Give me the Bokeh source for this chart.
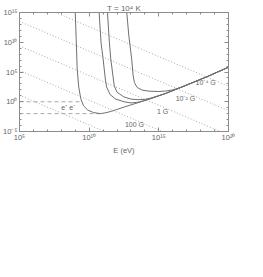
import numpy as np
from bokeh.plotting import figure
from bokeh.models import LogAxis, FixedTicker, Range1d, ColumnDataSource, LogScale
from bokeh.core.properties import value
from bokeh.embed import file_html
from bokeh.resources import INLINE

# ---- data (log10 values) ----
x_ticks = [1e5, 1e10, 1e15, 1e20]
x_tick_labels = ["10⁵", "10¹⁰", "10¹⁵", "10²⁰"]
y_ticks = [1e-5, 1e0, 1e5, 1e10, 1e15]
y_tick_labels = ["10⁻⁵", "10⁰", "10⁵", "10¹⁰", "10¹⁵"]

# dotted lines: log10 L at E = 1e5 eV and at E = 1e20 eV
sync_labels = ["10⁻⁴ G", "10⁻² G", "1 G", "100 G", ""]
sync_logL_at_E5 = [17.6, 13.5, 9.4, 5.25, 1.1]
sync_logL_at_E20 = [2.6, -1.5, -5.6, -9.75, -13.9]

# solid curves (log10 E, log10 L)
c1_logE = [9.0, 9.07, 9.14, 9.25, 9.4, 9.6, 9.9, 10.3, 10.8, 11.2, 11.6, 12.5, 14.0, 15.5, 17.0, 18.5, 20.0]
c1_logL = [15.2, 10.5, 5.5, 2.5, 0.5, -0.7, -1.4, -1.8, -2.0, -1.85, -1.6, -0.9, 0.2, 1.4, 2.8, 4.25, 5.8]
c2_logE = [10.71, 10.85, 11.0, 11.15, 11.25, 11.5, 11.9, 12.5, 13.0, 13.5, 14.0, 15.5, 17.0, 18.5, 20.0]
c2_logL = [15.2, 10.0, 7.2, 4.0, 2.5, 1.2, 0.45, 0.0, -0.2, -0.08, 0.22, 1.4, 2.8, 4.25, 5.8]
c3_logE = [11.31, 11.45, 11.55, 11.7, 11.8, 12.0, 12.5, 13.0, 13.5, 14.0, 14.5, 15.5, 17.0, 18.5, 20.0]
c3_logL = [15.2, 10.0, 7.2, 4.5, 2.7, 1.6, 0.8, 0.45, 0.35, 0.4, 0.65, 1.42, 2.8, 4.25, 5.8]
c4_logE = [12.69, 12.85, 13.05, 13.15, 13.25, 13.45, 13.8, 14.3, 15.0, 15.5, 16.0, 16.5, 17.0, 17.5, 18.5, 20.0]
c4_logL = [15.2, 11.0, 7.2, 4.5, 3.2, 2.4, 1.95, 1.78, 1.72, 1.8, 2.0, 2.35, 2.85, 3.3, 4.27, 5.82]

# dashed reference levels
dash_logL = [0.0, -2.0]
dash_logE_end = [9.42, 10.8]

# text labels
label_texts = sync_labels[:4] + ["e⁺ e⁻"]
label_logE = [17.64, 16.21, 14.86, 12.57, 8.0]
label_logL = [3.28, 0.5, -1.62, -3.78, -1.0]

# ---- figure ----
grey = "#8c8c8c"
txt = "#666666"
font = "Liberation Sans"

p = figure(width=248, height=157, x_axis_type=None, y_axis_type=None,
           x_range=Range1d(1e5, 1e20), y_range=Range1d(1e-5, 1e15),
           output_backend="svg", toolbar_location=None,
           min_border_left=18, min_border_right=20, min_border_top=12, min_border_bottom=24)
p.x_scale = LogScale()
p.y_scale = LogScale()
p.grid.visible = False
p.outline_line_color = grey
p.background_fill_color = "white"
p.border_fill_color = "white"

p.title.text = "T = 10⁴ K"
p.title.align = "center"
p.title.text_font = font
p.title.text_font_size = "8px"
p.title.text_font_style = "normal"
p.title.text_color = txt
p.title.standoff = 0

xminor = [10.0 ** k for k in range(5, 21) if k % 5]
yminor = [10.0 ** k for k in range(-5, 16) if k % 5]

def make_axis(ticks, minor, labels, show):
    ax = LogAxis(ticker=FixedTicker(ticks=ticks, minor_ticks=minor))
    ax.axis_line_color = grey
    ax.major_tick_line_color = grey
    ax.minor_tick_line_color = grey
    ax.major_tick_in = 4
    ax.major_tick_out = 0
    ax.minor_tick_in = 2
    ax.minor_tick_out = 0
    ax.major_label_text_font = font
    ax.major_label_text_color = txt
    if show:
        ax.major_label_overrides = {t: l for t, l in zip(ticks, labels)}
        ax.major_label_text_font_size = "7.5px"
        ax.major_label_standoff = 2
    else:
        ax.major_label_overrides = {t: "" for t in ticks}
        ax.major_label_text_font_size = "0px"
        ax.major_label_standoff = 0
    return ax

xb = make_axis(x_ticks, xminor, x_tick_labels, True)
xb.axis_label = "E (eV)"
xb.axis_label_text_font = font
xb.axis_label_text_font_size = "7.5px"
xb.axis_label_text_font_style = "normal"
xb.axis_label_text_color = txt
xb.axis_label_standoff = 1
xb.major_label_standoff = 1
p.add_layout(xb, "below")
p.add_layout(make_axis(x_ticks, xminor, x_tick_labels, False), "above")
p.add_layout(make_axis(y_ticks, yminor, y_tick_labels, True), "left")
p.add_layout(make_axis(y_ticks, yminor, y_tick_labels, False), "right")

# dotted lines
for a, b in zip(sync_logL_at_E5, sync_logL_at_E20):
    p.line([1e5, 1e20], [10.0 ** a, 10.0 ** b], line_color="#a8a8a8",
           line_dash="1 2", line_width=1)

# dashed lines
for lv, e_end in zip(dash_logL, dash_logE_end):
    p.line([1e5, 10.0 ** e_end], [10.0 ** lv, 10.0 ** lv], line_color="#a8a8a8",
           line_dash="4 3", line_width=1)

# solid curves
for le, ll in [(c1_logE, c1_logL), (c2_logE, c2_logL), (c3_logE, c3_logL), (c4_logE, c4_logL)]:
    p.line(10.0 ** np.array(le), 10.0 ** np.array(ll), line_color="#707070", line_width=1)

src = ColumnDataSource(dict(x=10.0 ** np.array(label_logE), y=10.0 ** np.array(label_logL), t=label_texts))
p.text(x="x", y="y", text="t", source=src, text_font=value(font), text_font_size="7px",
       text_color=txt, text_baseline="middle", text_align="left")

open("out.html", "w").write(file_html(p, INLINE))
